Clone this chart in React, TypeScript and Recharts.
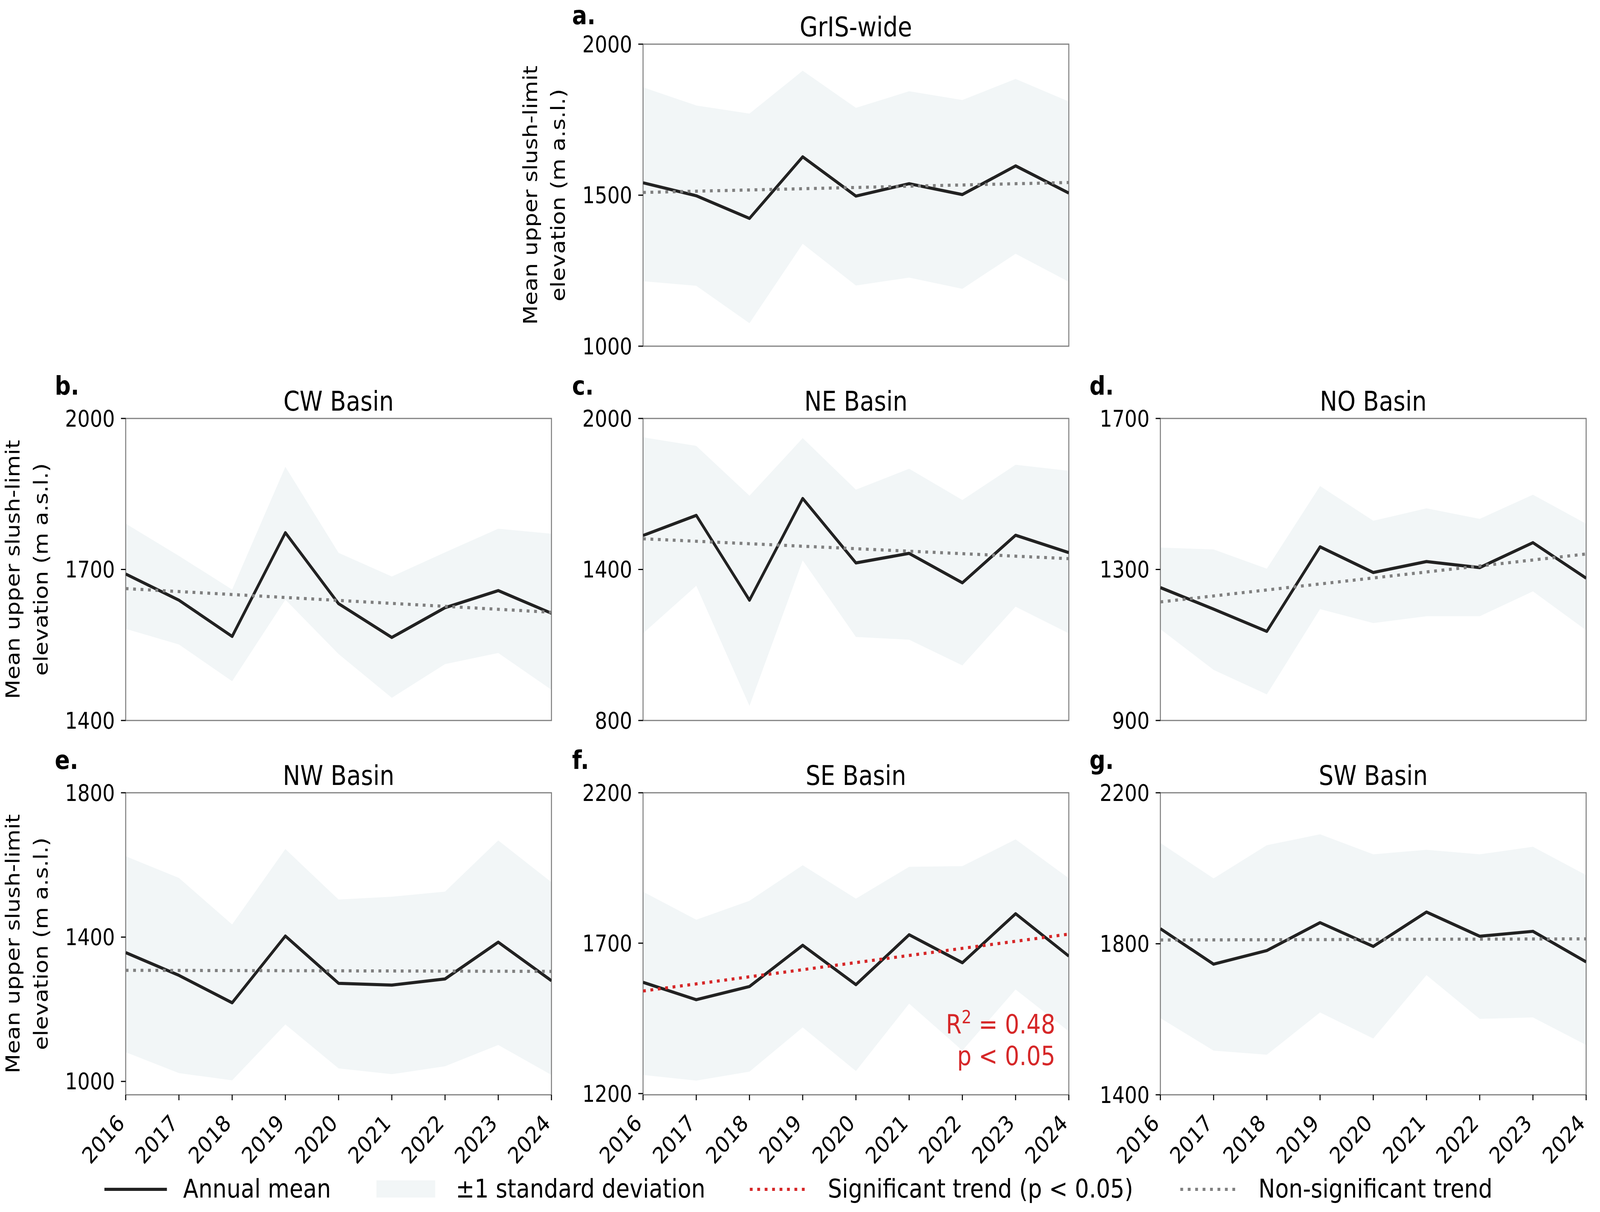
import React from 'react';
import {
  ComposedChart,
  Line,
  Area,
  XAxis,
  YAxis,
  ReferenceArea,
} from 'recharts';

// Annual mean upper slush-limit elevation per basin, 2016-2024 (m a.s.l.)
const years = [2016, 2017, 2018, 2019, 2020, 2021, 2022, 2023, 2024];

const grisMean = [1541, 1498, 1423, 1627, 1497, 1538, 1502, 1597, 1507];
const grisUpper = [1857, 1797, 1770, 1912, 1789, 1844, 1815, 1885, 1810];
const grisLower = [1215, 1200, 1076, 1339, 1201, 1227, 1190, 1306, 1213];
const grisTrend = [1509, 1542];

const cwMean = [1691, 1639, 1567, 1773, 1632, 1565, 1624, 1658, 1613];
const cwUpper = [1791, 1727, 1660, 1904, 1733, 1686, 1734, 1781, 1771];
const cwLower = [1582, 1551, 1478, 1640, 1532, 1445, 1512, 1534, 1461];
const cwTrend = [1662, 1615];

const neMean = [1535, 1615, 1278, 1682, 1426, 1464, 1347, 1536, 1467];
const neUpper = [1925, 1891, 1693, 1922, 1717, 1800, 1676, 1816, 1792];
const neLower = [1146, 1335, 858, 1436, 1132, 1121, 1019, 1252, 1146];
const neTrend = [1522, 1443];

const noMean = [1252, 1195, 1136, 1360, 1292, 1321, 1305, 1371, 1277];
const noUpper = [1358, 1353, 1302, 1521, 1429, 1462, 1434, 1498, 1421];
const noLower = [1142, 1034, 969, 1195, 1158, 1176, 1176, 1242, 1139];
const noTrend = [1214, 1341];

const nwMean = [1357, 1294, 1218, 1403, 1272, 1267, 1284, 1386, 1279];
const nwUpper = [1624, 1564, 1435, 1644, 1504, 1512, 1526, 1668, 1552];
const nwLower = [1081, 1023, 1003, 1158, 1036, 1020, 1042, 1101, 1018];
const nwTrend = [1308, 1305];

const seMean = [1570, 1512, 1556, 1693, 1562, 1728, 1635, 1798, 1657];
const seUpper = [1871, 1778, 1841, 1959, 1848, 1954, 1956, 2045, 1916];
const seLower = [1262, 1243, 1273, 1420, 1275, 1499, 1343, 1546, 1407];
const seTrend = [1541, 1730];

const swMean = [1840, 1746, 1782, 1856, 1793, 1884, 1820, 1833, 1752];
const swUpper = [2067, 1973, 2061, 2090, 2037, 2049, 2037, 2057, 1982];
const swLower = [1603, 1517, 1506, 1618, 1549, 1717, 1601, 1605, 1532];
const swTrend = [1810, 1813];

const FONT = 'DejaVu Sans';
const BAND = '#f2f6f7';
const MEAN = '#222222';
const RED = '#d62728';
const GREY = '#808080';

const FIG_W = 4735;
const FIG_H = 3102;
const PLOT_W = 1260;
const PLOT_H = 773;
const COL_X = [372, 1903, 3434];
const ROW_Y = [113, 1071, 2029];
const Y_AXIS_W = 220;
const TOP_M = 60;
const X_AXIS_H = 200;

type Panel = {
  letter: string;
  title: string;
  col: number;
  row: number;
  mean: number[];
  upper: number[];
  lower: number[];
  trend: number[];
  domain: [number, number];
  ticks: number[];
  significant: boolean;
  yLabel: boolean;
  xLabels: boolean;
};

const panels: Panel[] = [
  { letter: 'a.', title: 'GrIS-wide', col: 1, row: 0, mean: grisMean, upper: grisUpper, lower: grisLower, trend: grisTrend, domain: [1000, 2000], ticks: [1000, 1500, 2000], significant: false, yLabel: true, xLabels: false },
  { letter: 'b.', title: 'CW Basin', col: 0, row: 1, mean: cwMean, upper: cwUpper, lower: cwLower, trend: cwTrend, domain: [1400, 2000], ticks: [1400, 1700, 2000], significant: false, yLabel: true, xLabels: false },
  { letter: 'c.', title: 'NE Basin', col: 1, row: 1, mean: neMean, upper: neUpper, lower: neLower, trend: neTrend, domain: [800, 2000], ticks: [800, 1400, 2000], significant: false, yLabel: false, xLabels: false },
  { letter: 'd.', title: 'NO Basin', col: 2, row: 1, mean: noMean, upper: noUpper, lower: noLower, trend: noTrend, domain: [900, 1700], ticks: [900, 1300, 1700], significant: false, yLabel: false, xLabels: false },
  { letter: 'e.', title: 'NW Basin', col: 0, row: 2, mean: nwMean, upper: nwUpper, lower: nwLower, trend: nwTrend, domain: [963, 1800], ticks: [1000, 1400, 1800], significant: false, yLabel: true, xLabels: true },
  { letter: 'f.', title: 'SE Basin', col: 1, row: 2, mean: seMean, upper: seUpper, lower: seLower, trend: seTrend, domain: [1196, 2200], ticks: [1200, 1700, 2200], significant: true, yLabel: false, xLabels: true },
  { letter: 'g.', title: 'SW Basin', col: 2, row: 2, mean: swMean, upper: swUpper, lower: swLower, trend: swTrend, domain: [1400, 2200], ticks: [1400, 1800, 2200], significant: false, yLabel: false, xLabels: true },
];

function YearTick(props: any) {
  const { x, y, payload } = props;
  const ty = y + 60;
  return (
    <text
      x={x}
      y={ty}
      transform={`rotate(-45 ${x} ${ty})`}
      textAnchor="end"
      fontSize={58}
      fontFamily={FONT}
      fill="#000"
    >
      {payload.value}
    </text>
  );
}

function PanelChart({ p }: { p: Panel }) {
  const data = years.map((year, i) => ({
    year,
    band: [p.lower[i], p.upper[i]],
    mean: p.mean[i],
    trend: i === 0 ? p.trend[0] : i === years.length - 1 ? p.trend[1] : null,
  }));

  const left = COL_X[p.col] - Y_AXIS_W;
  const top = ROW_Y[p.row] - TOP_M;

  return (
    <div style={{ position: 'absolute', left, top }}>
      <ComposedChart
        width={Y_AXIS_W + PLOT_W + 20}
        height={TOP_M + PLOT_H + X_AXIS_H}
        data={data}
        margin={{ top: TOP_M, right: 20, left: 0, bottom: 0 }}
      >
        <XAxis
          dataKey="year"
          type="number"
          domain={[2016, 2024]}
          ticks={years}
          interval={0}
          allowDataOverflow
          height={X_AXIS_H}
          axisLine={false}
          tickLine={{ stroke: '#000', strokeWidth: 3 }}
          tickSize={14}
          tickMargin={2}
          tick={p.xLabels ? <YearTick /> : false}
        />
        <YAxis
          type="number"
          domain={p.domain}
          ticks={p.ticks}
          interval={0}
          allowDataOverflow
          width={Y_AXIS_W}
          axisLine={false}
          tickLine={{ stroke: '#000', strokeWidth: 3 }}
          tickSize={14}
          tickMargin={18}
          tick={{ fontSize: 58, fill: '#000', fontFamily: FONT }}
        />
        <Area
          type="linear"
          dataKey="band"
          fill={BAND}
          fillOpacity={1}
          stroke="none"
          dot={false}
          activeDot={false}
          isAnimationActive={false}
        />
        <Line
          type="linear"
          dataKey="mean"
          stroke={MEAN}
          strokeWidth={8}
          strokeLinejoin="round"
          dot={false}
          activeDot={false}
          isAnimationActive={false}
        />
        <Line
          type="linear"
          dataKey="trend"
          stroke={p.significant ? RED : GREY}
          strokeWidth={8}
          strokeDasharray="8.3 13.7"
          connectNulls
          dot={false}
          activeDot={false}
          isAnimationActive={false}
        />
        <ReferenceArea
          x1={2016}
          x2={2024}
          y1={p.domain[0]}
          y2={p.domain[1]}
          fill="none"
          stroke={GREY}
          strokeWidth={3}
          ifOverflow="visible"
        />
      </ComposedChart>
    </div>
  );
}

function Overlay() {
  const txt = { fontFamily: FONT, fill: '#000' } as const;
  return (
    <svg
      width={FIG_W}
      height={FIG_H}
      style={{ position: 'absolute', left: 0, top: 0, pointerEvents: 'none' }}
    >
      {panels.map((p) => {
        const x0 = COL_X[p.col];
        const y0 = ROW_Y[p.row];
        const cy = y0 + PLOT_H / 2;
        return (
          <g key={p.letter}>
            <text x={x0 - 210} y={Math.max(y0 - 61, 62)} fontSize={66} fontWeight="bold" {...txt}>
              {p.letter}
            </text>
            <text x={x0 + PLOT_W / 2} y={y0 - 20} fontSize={69} textAnchor="middle" {...txt}>
              {p.title}
            </text>
            {p.yLabel && (
              <g>
                <text
                  x={x0 - 314}
                  y={cy}
                  transform={`rotate(-90 ${x0 - 314} ${cy})`}
                  fontSize={58}
                  textAnchor="middle"
                  {...txt}
                >
                  Mean upper slush-limit
                </text>
                <text
                  x={x0 - 231}
                  y={cy}
                  transform={`rotate(-90 ${x0 - 231} ${cy})`}
                  fontSize={58}
                  textAnchor="middle"
                  {...txt}
                >
                  elevation (m a.s.l.)
                </text>
              </g>
            )}
            {p.significant && (
              <g fontFamily={FONT} fill={RED} fontSize={67} textAnchor="end">
                <text x={x0 + PLOT_W - 40} y={y0 + 616}>
                  R<tspan dy={-26} fontSize={46}>2</tspan>
                  <tspan dy={26}> = 0.48</tspan>
                </text>
                <text x={x0 + PLOT_W - 40} y={y0 + 697}>
                  p &lt; 0.05
                </text>
              </g>
            )}
          </g>
        );
      })}

      {/* legend */}
      <line x1={309} x2={494} y1={3044} y2={3044} stroke={MEAN} strokeWidth={8} />
      <text x={542} y={3065} fontSize={66} {...txt}>Annual mean</text>
      <rect x={1114} y={3021} width={174} height={44} fill={BAND} />
      <text x={1349} y={3065} fontSize={66} {...txt}>±1 standard deviation</text>
      <line x1={2219} x2={2394} y1={3044} y2={3044} stroke={RED} strokeWidth={8} strokeDasharray="8.3 13.7" />
      <text x={2450} y={3065} fontSize={66} {...txt}>Significant trend (p &lt; 0.05)</text>
      <line x1={3493} x2={3663} y1={3044} y2={3044} stroke={GREY} strokeWidth={8} strokeDasharray="8.3 13.7" />
      <text x={3724} y={3065} fontSize={66} {...txt}>Non-significant trend</text>
    </svg>
  );
}

export default function App() {
  // The browser may clamp the viewport (e.g. to 4096 wide); stretch the
  // 4735x3102 figure so it fills whatever viewport we actually get.
  const vw = typeof window !== 'undefined' ? window.innerWidth : FIG_W;
  const vh = typeof window !== 'undefined' ? window.innerHeight : FIG_H;
  const sx = Math.min(1, vw / FIG_W);
  const sy = Math.min(1, vh / FIG_H);
  return (
    <div style={{ width: FIG_W * sx, height: FIG_H * sy, overflow: 'hidden' }}>
      <style>{'html,body{margin:0;padding:0;overflow:hidden;background:#fff}'}</style>
      <div
        style={{
          position: 'relative',
          width: FIG_W,
          height: FIG_H,
          background: '#fff',
          fontFamily: FONT,
          transform: `scale(${sx}, ${sy})`,
          transformOrigin: '0 0',
        }}
      >
        {panels.map((p) => (
          <PanelChart key={p.letter} p={p} />
        ))}
        <Overlay />
      </div>
    </div>
  );
}
